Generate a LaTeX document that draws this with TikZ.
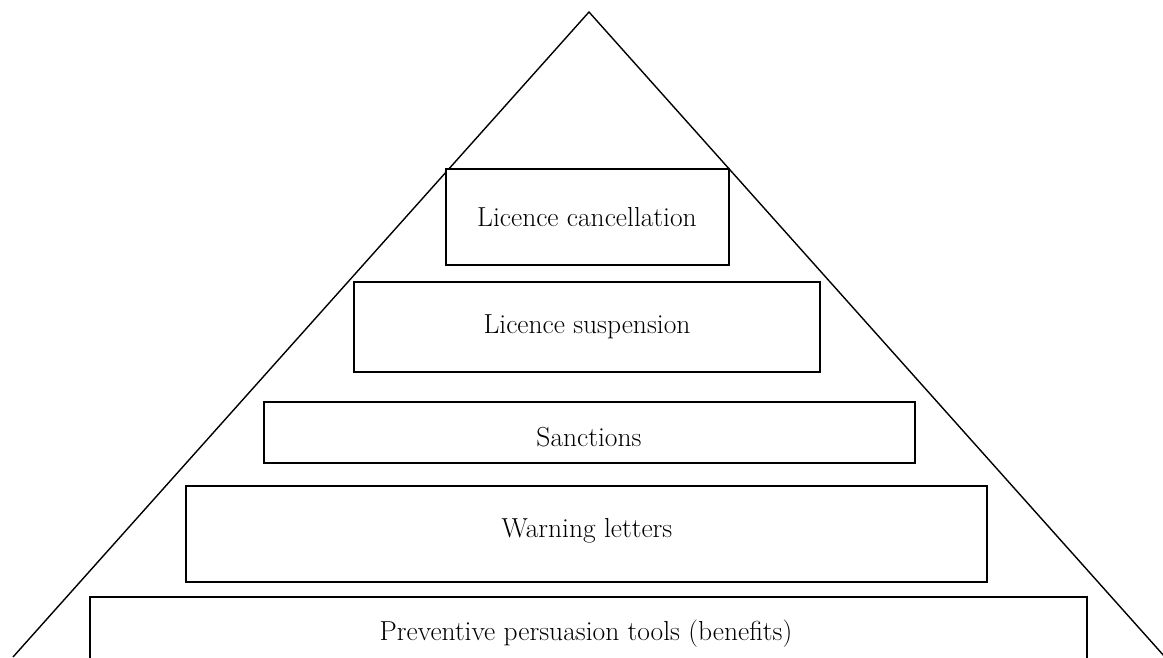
\documentclass[tikz,border=0pt]{standalone}
\begin{document}
\begin{tikzpicture}[x=1pt,y=-1pt,
  tier/.style={draw=black, fill=white, line width=1.6pt, rectangle, inner sep=0pt},
  lbl/.style={font=\fontsize{27.5}{32}\selectfont, inner sep=0pt}]
\useasboundingbox (0,0) rectangle (1163,657);
\clip (0,0) rectangle (1163,657);
\draw[line width=1.4pt] (13,657) -- (589,12) -- (1165,657);
\node[tier, minimum width=283pt, minimum height=96pt] (cancel) at (587.5,217) {};
\node[lbl] (tcancel) at (587,217) {Licence cancellation};
\node[tier, minimum width=466pt, minimum height=90pt] (susp) at (587,327) {};
\node[lbl] (tsusp) at (587,327) {Licence suspension};
\node[tier, minimum width=651pt, minimum height=61pt] (sanc) at (589.5,432.5) {};
\node[lbl] (tsanc) at (589,437) {Sanctions};
\node[tier, minimum width=801pt, minimum height=96pt] (warn) at (586.5,534) {};
\node[lbl] (twarn) at (587,531) {Warning letters};
\node[tier, minimum width=997pt, minimum height=130pt] (prev) at (588.5,662) {};
\node[lbl] (tprev) at (586,634) {Preventive persuasion tools (benefits)};
\end{tikzpicture}
\end{document}
